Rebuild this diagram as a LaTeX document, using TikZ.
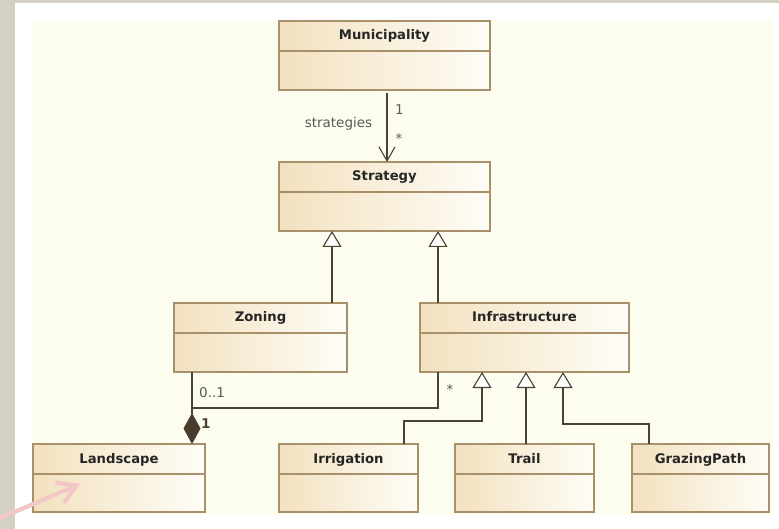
\documentclass[tikz,border=0pt]{standalone}
\usepackage{fontspec}
\setmainfont{DejaVu Sans}
\usetikzlibrary{arrows.meta}

\definecolor{stone}{HTML}{D4D1C3}
\definecolor{canvas}{HTML}{FDFDEF}
\definecolor{boxleft}{HTML}{F2E1BF}
\definecolor{boxright}{HTML}{FFFDF7}
\definecolor{boxedge}{HTML}{A8916A}
\definecolor{linec}{HTML}{4A4234}
\definecolor{diamondc}{HTML}{4A3C2C}
\definecolor{labelc}{HTML}{5A5A5A}
\definecolor{pinkc}{HTML}{F3C6C7}

% one UML class: name, left, top, width, height, title
\newcommand\umlclass[6]{%
  \node[classbox, minimum width=#4pt, minimum height=#5pt] (#1) at (#2,#3) {};
  \draw[classedge] ([yshift=-30pt]#1.north west) -- ([yshift=-30pt]#1.north east);
  \node[classname] at ([yshift=-19pt]#1.north) {#6};
}

\begin{document}
\begin{tikzpicture}[x=1pt, y=-1pt,
  classbox/.style={anchor=north west, draw=boxedge, line width=1.3pt,
    left color=boxleft, right color=boxright, inner sep=0pt, outer sep=0pt},
  classedge/.style={draw=boxedge, line width=1.1pt},
  classname/.style={anchor=base, font=\fontsize{13.2}{15}\selectfont\bfseries, text=black!85, inner sep=0pt},
  conn/.style={draw=linec, line width=1.1pt},
  assoc/.style={conn, -{Straight Barb[length=14pt, width=16pt, line width=1.1pt]}},
  gen/.style={conn, -{Triangle[open, fill=white, length=16pt, width=19pt, line width=1.1pt]}},
  comp/.style={conn, -{Diamond[length=31pt, width=17pt, fill=diamondc, line width=0.6pt]}},
  mult/.style={font=\fontsize{13.5}{15}\selectfont, text=labelc, inner sep=0pt},
]
\useasboundingbox (0,0) rectangle (779,529);

% page surround and drawing area
\fill[stone] (0,0) rectangle (779,529);
\fill[white] (15,3) rectangle (779,529);
\fill[canvas] (32,20) rectangle (773,515);

% classes
\umlclass{muni}{279}{21}{211}{69}{Municipality}
\umlclass{strat}{279}{162}{211}{69}{Strategy}
\umlclass{zoning}{174}{303}{173}{69}{Zoning}
\umlclass{infra}{420}{303}{209}{69}{Infrastructure}
\umlclass{land}{33}{444}{172}{68}{Landscape}
\umlclass{irr}{279}{444}{139}{68}{Irrigation}
\umlclass{trail}{455}{444}{139}{68}{Trail}
\umlclass{graze}{632}{444}{137}{68}{GrazingPath}

% Municipality -> Strategy
\draw[assoc] ([xshift=2.5pt,yshift=-3pt]muni.south) -- ([xshift=2.5pt]strat.north);
\node[mult, anchor=base] at (338.5,128) {strategies};
\node[mult, anchor=base west] at (395,115) {1};
\node[mult] at (399,138) {*};

% Zoning and Infrastructure specialise Strategy
\draw[gen] ([xshift=71.5pt]zoning.north) -- ([xshift=71.5pt]zoning.north |- strat.south);
\draw[gen] ([xshift=-86.5pt]infra.north) -- ([xshift=-86.5pt]infra.north |- strat.south);

% Landscape composition
\coordinate (jn) at (192,408);
\draw[comp] ([xshift=-68.5pt]zoning.south) -- ([xshift=73pt]land.north);
\draw[conn] ([xshift=-86.5pt]infra.south) |- (jn);
\node[mult, anchor=base west] at (199,397) {0..1};
\node[mult, anchor=base west, font=\fontsize{13.5}{15}\selectfont\bfseries, text=linec] at (201,428) {1};
\node[mult] at (450,389) {*};

% Infrastructure subclasses
\draw[gen] ([xshift=55.5pt]irr.north) -- ++(0,-23) -| ([xshift=-42.5pt]infra.south);
\draw[gen] ([xshift=1.5pt]trail.north) -- ([xshift=1.5pt]trail.north |- infra.south);
\draw[gen] ([xshift=-51.5pt]graze.north) -- ++(0,-20) -| ([xshift=38.5pt]infra.south);

% pointer
\coordinate (ptail) at (-2,519);
\coordinate (phead) at (80,484);
\draw[pinkc, line width=4.2pt, line cap=round, -{Straight Barb[length=18pt, width=22pt]}] (ptail) -- (phead);
\end{tikzpicture}
\end{document}
